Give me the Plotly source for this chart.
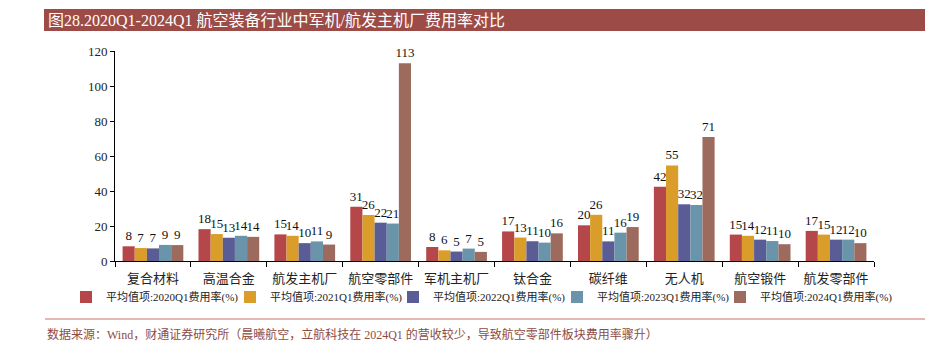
import plotly.graph_objects as go

categories = ["复合材料", "高温合金", "航发主机厂", "航空零部件", "军机主机厂",
              "钛合金", "碳纤维", "无人机", "航空锻件", "航发零部件"]
series_names = ["平均值项:2020Q1费用率(%)", "平均值项:2021Q1费用率(%)",
                "平均值项:2022Q1费用率(%)", "平均值项:2023Q1费用率(%)",
                "平均值项:2024Q1费用率(%)"]
v2020 = [8.4, 18.2, 15.2, 31.0, 8.0, 16.9, 20.4, 42.4, 15.1, 17.2]
v2021 = [7.4, 15.4, 14.4, 26.3, 6.1, 13.4, 26.4, 54.6, 14.4, 15.1]
v2022 = [7.2, 13.3, 10.2, 21.9, 5.4, 11.3, 11.2, 32.4, 12.2, 12.2]
v2023 = [9.2, 14.4, 11.2, 21.4, 7.1, 10.5, 16.2, 32.0, 11.4, 12.2]
v2024 = [9.1, 13.8, 9.4, 113.0, 5.2, 15.8, 19.4, 70.9, 9.6, 10.2]
labels2020 = ["8", "18", "15", "31", "8", "17", "20", "42", "15", "17"]
labels2021 = ["7", "15", "14", "26", "6", "13", "26", "55", "14", "15"]
labels2022 = ["7", "13", "10", "22", "5", "11", "11", "32", "12", "12"]
labels2023 = ["9", "14", "11", "21", "7", "10", "16", "32", "11", "12"]
labels2024 = ["9", "14", "9", "113", "5", "16", "19", "71", "10", "10"]
y_ticks = [0, 20, 40, 60, 80, 100, 120]

colors = ["#B5474A", "#DA9D2A", "#5A5C95", "#6A94A9", "#9C6B5E"]
FONT = "Liberation Serif, Noto Sans CJK SC, serif"

W, H = 936, 349
L, R, T, B = 115, 62, 51, 88
PW = W - L - R
PH = H - T - B


def px_x(p):
    return (p - L) / PW


def px_y(p):
    return (H - B - p) / PH


legend_marker_px = [80, 244, 407, 571, 734]

fig = go.Figure()
legend_ids = []
for i, (name, vals, labs, col) in enumerate(zip(
        series_names, [v2020, v2021, v2022, v2023, v2024],
        [labels2020, labels2021, labels2022, labels2023, labels2024], colors)):
    lid = "legend" if i == 0 else f"legend{i + 1}"
    legend_ids.append(lid)
    fig.add_trace(go.Bar(
        x=categories, y=vals, name=name, marker=dict(color=col, line=dict(width=0)),
        text=labs, textposition="outside", constraintext="none", cliponaxis=False,
        textfont=dict(family=FONT, size=13, color="#111111"), legend=lid,
    ))

layout_legends = {}
for lid, mx in zip(legend_ids, legend_marker_px):
    layout_legends[lid] = dict(
        orientation="h", x=px_x(mx - 14), xanchor="left", y=px_y(297), yanchor="middle",
        font=dict(family=FONT, size=11, color="#222"), itemwidth=30,
        bgcolor="rgba(0,0,0,0)")

fig.update_layout(
    width=W, height=H, barmode="group", bargap=0.2, bargroupgap=0,
    margin=dict(l=L, r=R, t=T, b=B, pad=0),
    plot_bgcolor="white", paper_bgcolor="white",
    font=dict(family=FONT, size=12, color="#111111"),
    xaxis=dict(showline=True, linecolor="#000", linewidth=1, ticks="outside",
               tickson="boundaries", ticklen=5, tickcolor="#000", ticklabelstandoff=5,
               tickfont=dict(family=FONT, size=13, color="#222"), showgrid=False),
    yaxis=dict(range=[0, 120], tickvals=y_ticks, showline=True, linecolor="#000",
               linewidth=1, ticks="outside", ticklen=4, tickcolor="#000",
               showgrid=False, zeroline=False,
               tickfont=dict(family=FONT, size=13, color="#222")),
    showlegend=True,
    **layout_legends,
)

fig.add_shape(type="rect", xref="paper", yref="paper",
              x0=px_x(44), x1=px_x(925), y0=px_y(31), y1=px_y(9),
              fillcolor="#9C4B46", line=dict(width=0), layer="below")
fig.add_annotation(xref="paper", yref="paper", x=px_x(46), y=px_y(20),
                   xanchor="left", yanchor="middle", showarrow=False,
                   text="图28.2020Q1-2024Q1 航空装备行业中军机/航发主机厂费用率对比",
                   font=dict(family=FONT, size=16, color="white"))
fig.add_shape(type="line", xref="paper", yref="paper",
              x0=px_x(45), x1=px_x(925), y0=px_y(319), y1=px_y(319),
              line=dict(color="#C9706C", width=1.2))
fig.add_annotation(xref="paper", yref="paper", x=px_x(45), y=px_y(334),
                   xanchor="left", yanchor="middle", showarrow=False,
                   text="数据来源：Wind，财通证券研究所（晨曦航空，立航科技在 2024Q1 的营收较少，导致航空零部件板块费用率骤升）",
                   font=dict(family=FONT, size=12, color="#8E4B45"))

fig.write_html("out.html")
